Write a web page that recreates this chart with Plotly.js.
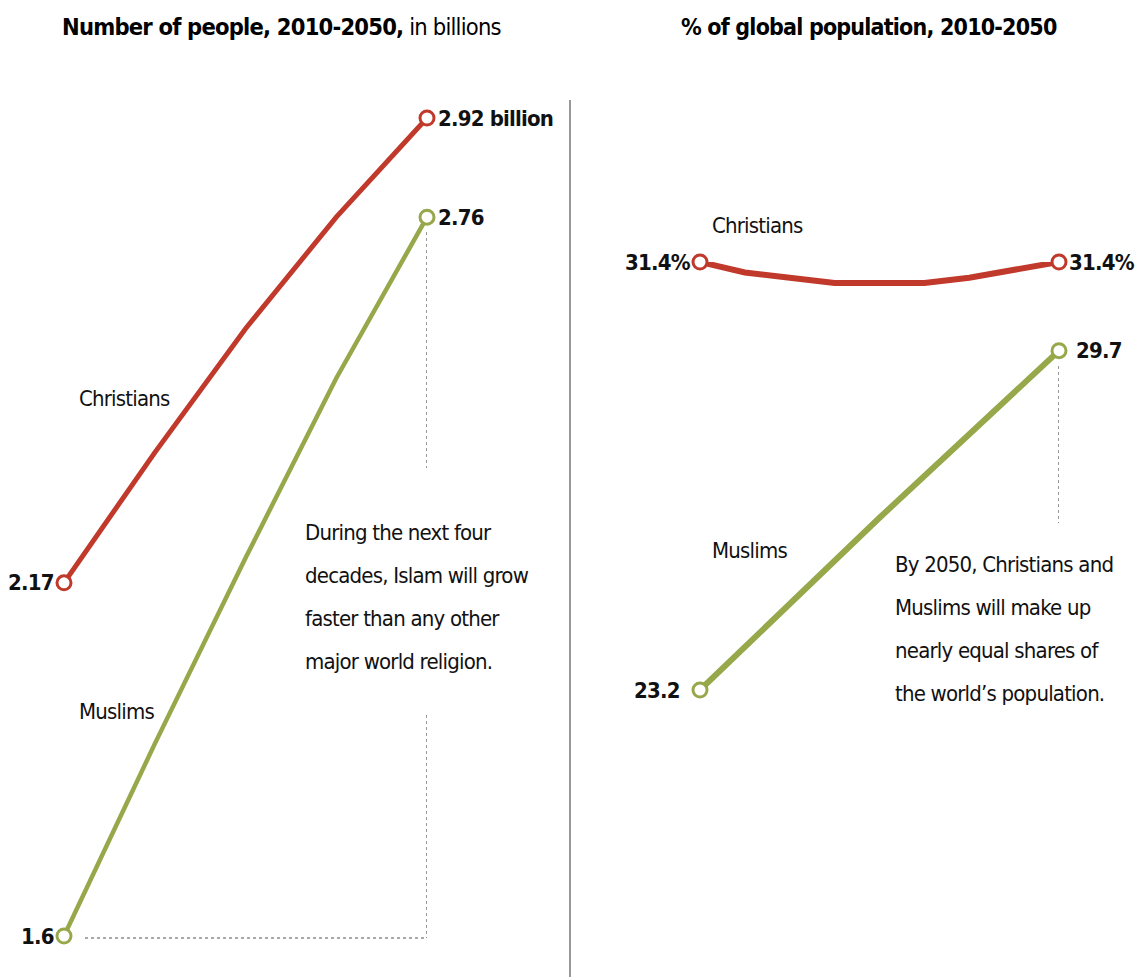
<!DOCTYPE html>
<html>
<head>
<meta charset="utf-8">
<script src="https://cdn.plot.ly/plotly-3.0.1.min.js"></script>
<style>
  html, body { margin: 0; padding: 0; background: #fff; }
  #chart { width: 1140px; height: 977px; }
  text.annotation-text { letter-spacing: -0.8px; }
</style>
</head>
<body>
<div id="chart"></div>
<script>
// ---- data ----
const yearsDecade = [2010, 2020, 2030, 2040, 2050];
const christiansBillions = [2.17, 2.38, 2.58, 2.76, 2.92];
const muslimsBillions = [1.60, 1.91, 2.21, 2.50, 2.76];

const yearsFive = [2010, 2015, 2020, 2025, 2030, 2035, 2040, 2045, 2050];
const christiansShare = [31.4, 31.2, 31.1, 31.0, 31.0, 31.0, 31.1, 31.25, 31.4];
const muslimsShare = [23.2, 24.85, 26.5, 28.1, 29.7];

const seriesNames = ["Christians", "Muslims"];
const titleLeftBold = "Number of people, 2010-2050,";
const titleLeftRest = " in billions";
const titleRight = "% of global population, 2010-2050";
const noteLeft = ["During the next four", "decades, Islam will grow", "faster than any other", "major world religion."];
const noteRight = ["By 2050, Christians and", "Muslims will make up", "nearly equal shares of", "the world\u2019s population."];

// ---- styling ----
const RED = "#c0392b";
const GREEN = "#97a84b";
const FONT = "Liberation Sans Narrow, DejaVu Sans Condensed, Arial Narrow, sans-serif";
const W = 1140, H = 977;
const px = v => v / W;
const py = v => 1 - v / H;

function line(x, y, color, xa, ya, width) {
  return {
    x: x, y: y, xaxis: xa, yaxis: ya, type: "scatter", mode: "lines+markers",
    cliponaxis: false, hoverinfo: "skip",
    line: { color: color, width: width },
    marker: {
      size: x.map((_, i) => (i === 0 || i === x.length - 1) ? 14 : 0),
      color: "#fff", opacity: 1, line: { color: color, width: 3 }
    }
  };
}

const traces = [
  line(yearsDecade, christiansBillions, RED, "x", "y", 5),
  line(yearsDecade, muslimsBillions, GREEN, "x", "y", 4.5),
  line(yearsFive, christiansShare, RED, "x2", "y2", 6),
  line(yearsDecade, muslimsShare, GREEN, "x2", "y2", 6)
];

const last = a => a[a.length - 1];
const valFont = { family: FONT, size: 22, color: "#111" };
const lblFont = { family: FONT, size: 22, color: "#111" };

function valAnn(x, y, text, xa, ya, side, shift) {
  return {
    x: x, y: y, xref: xa, yref: ya, text: "<b>" + text + "</b>", showarrow: false,
    xanchor: side, yanchor: "middle", xshift: shift, font: valFont
  };
}

const annotations = [
  valAnn(last(yearsDecade), last(christiansBillions), last(christiansBillions).toFixed(2) + " billion", "x", "y", "left", 9),
  valAnn(last(yearsDecade), last(muslimsBillions), last(muslimsBillions).toFixed(2), "x", "y", "left", 9),
  valAnn(yearsDecade[0], christiansBillions[0], String(christiansBillions[0]), "x", "y", "right", -8),
  valAnn(yearsDecade[0], muslimsBillions[0], String(muslimsBillions[0]), "x", "y", "right", -8),
  valAnn(yearsFive[0], christiansShare[0], christiansShare[0].toFixed(1) + "%", "x2", "y2", "right", -7),
  valAnn(last(yearsFive), last(christiansShare), last(christiansShare).toFixed(1) + "%", "x2", "y2", "left", 8),
  valAnn(yearsDecade[0], muslimsShare[0], muslimsShare[0].toFixed(1), "x2", "y2", "right", -18),
  valAnn(last(yearsDecade), last(muslimsShare), last(muslimsShare).toFixed(1), "x2", "y2", "left", 15),
  // titles
  { x: px(281), y: py(27), xref: "paper", yref: "paper", showarrow: false, xanchor: "center", yanchor: "middle",
    text: "<b>" + titleLeftBold + "</b>" + titleLeftRest, font: { family: FONT, size: 23.5, color: "#000" } },
  { x: px(869), y: py(27), xref: "paper", yref: "paper", showarrow: false, xanchor: "center", yanchor: "middle",
    text: "<b>" + titleRight + "</b>", font: { family: FONT, size: 23, color: "#000" } },
  // series labels
  { x: px(77), y: py(398), xref: "paper", yref: "paper", showarrow: false, xanchor: "left", yanchor: "middle", text: seriesNames[0], font: lblFont },
  { x: px(77), y: py(711), xref: "paper", yref: "paper", showarrow: false, xanchor: "left", yanchor: "middle", text: seriesNames[1], font: lblFont },
  { x: px(710), y: py(226), xref: "paper", yref: "paper", showarrow: false, xanchor: "left", yanchor: "middle", text: seriesNames[0], font: lblFont },
  { x: px(710), y: py(550), xref: "paper", yref: "paper", showarrow: false, xanchor: "left", yanchor: "middle", text: seriesNames[1], font: lblFont }
];
noteLeft.forEach((t, i) => annotations.push({
  x: px(303), y: py(532 + i * 43), xref: "paper", yref: "paper", showarrow: false,
  xanchor: "left", yanchor: "middle", text: t, font: lblFont
}));
noteRight.forEach((t, i) => annotations.push({
  x: px(893), y: py(564 + i * 43), xref: "paper", yref: "paper", showarrow: false,
  xanchor: "left", yanchor: "middle", text: t, font: lblFont
}));

const dot = { color: "#555", width: 1.2, dash: "dot" };
const shapes = [
  { type: "line", xref: "paper", yref: "paper", x0: 0.5, x1: 0.5, y0: py(100), y1: 0, line: { color: "#333", width: 1 } },
  { type: "line", xref: "x", yref: "paper", x0: 2050, x1: 2050, y0: py(232), y1: py(468), line: dot },
  { type: "line", xref: "x", yref: "paper", x0: 2050, x1: 2050, y0: py(715), y1: py(938), line: dot },
  { type: "line", xref: "paper", yref: "paper", x0: px(85), x1: px(427), y0: py(938), y1: py(938), line: dot },
  { type: "line", xref: "x2", yref: "paper", x0: 2050, x1: 2050, y0: py(366), y1: py(523), line: dot }
];

const hidden = { visible: false, fixedrange: true };
const layout = {
  width: W, height: H,
  margin: { l: 0, r: 0, t: 0, b: 0 },
  paper_bgcolor: "#fff", plot_bgcolor: "rgba(0,0,0,0)",
  showlegend: false,
  xaxis: Object.assign({ domain: [px(64), px(427)], range: [2010, 2050], anchor: "y" }, hidden),
  yaxis: Object.assign({ domain: [py(936), py(118)], range: [1.6, 2.92], anchor: "x" }, hidden),
  xaxis2: Object.assign({ domain: [px(700), px(1059)], range: [2010, 2050], anchor: "y2" }, hidden),
  yaxis2: Object.assign({ domain: [py(690), py(262)], range: [23.2, 31.4], anchor: "x2" }, hidden),
  annotations: annotations,
  shapes: shapes
};

Plotly.newPlot("chart", traces, layout, { displayModeBar: false, staticPlot: true });
</script>
</body>
</html>
